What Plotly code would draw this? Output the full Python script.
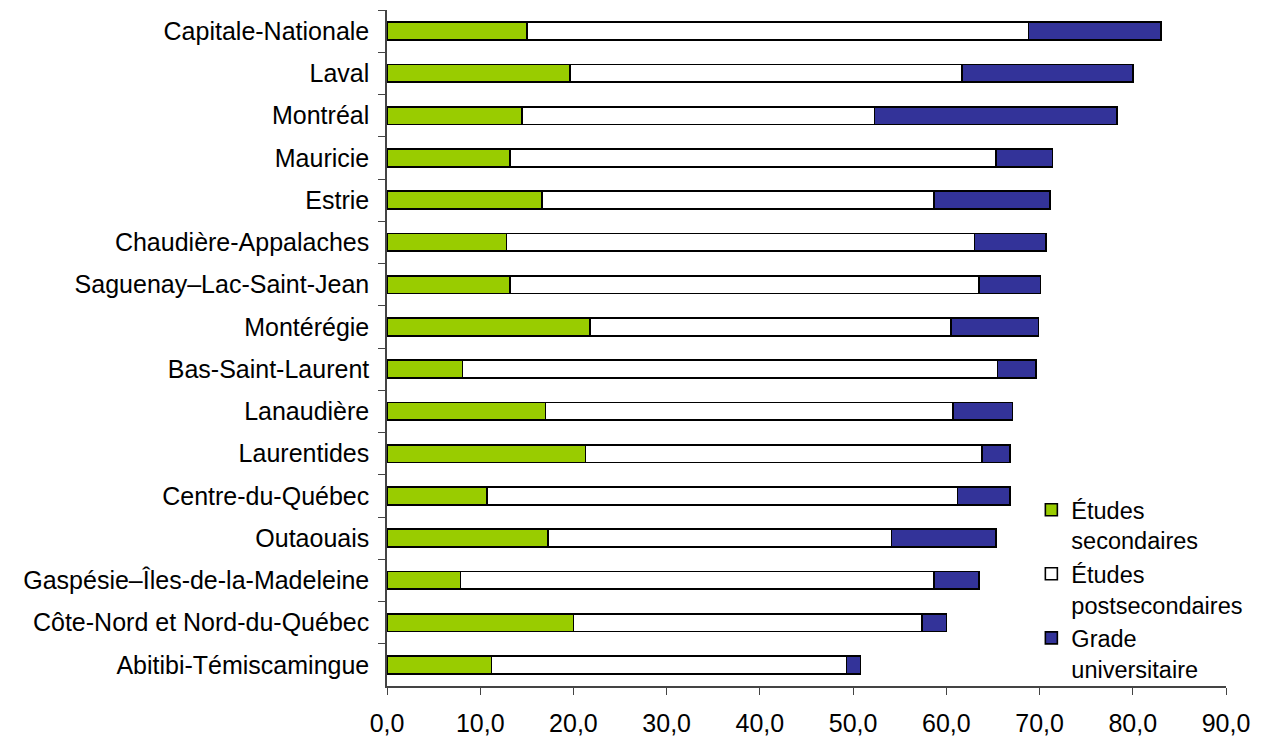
import plotly.graph_objects as go

regions = [
    "Capitale-Nationale", "Laval", "Montréal", "Mauricie", "Estrie",
    "Chaudière-Appalaches", "Saguenay–Lac-Saint-Jean", "Montérégie",
    "Bas-Saint-Laurent", "Lanaudière", "Laurentides", "Centre-du-Québec",
    "Outaouais", "Gaspésie–Îles-de-la-Madeleine",
    "Côte-Nord et Nord-du-Québec", "Abitibi-Témiscamingue",
]
secondaires = [15.0, 19.6, 14.5, 13.2, 16.6, 12.8, 13.2, 21.8,
               8.1, 17.0, 21.3, 10.7, 17.3, 7.9, 20.0, 11.2]
postsecondaires = [53.8, 42.1, 37.8, 52.1, 42.1, 50.2, 50.3, 38.7,
                   57.4, 43.7, 42.5, 50.5, 36.8, 50.8, 37.4, 38.1]
universitaire = [14.2, 18.3, 26.0, 6.1, 12.4, 7.7, 6.6, 9.4,
                 4.1, 6.4, 3.0, 5.6, 11.2, 4.8, 2.6, 1.5]
x_ticks = [0, 10, 20, 30, 40, 50, 60, 70, 80, 90]

series = [
    ("Études<br>secondaires", secondaires, "#99cc00"),
    ("Études<br>postsecondaires", postsecondaires, "#ffffff"),
    ("Grade<br>universitaire", universitaire, "#333399"),
]

fig = go.Figure()
for name, vals, col in series:
    fig.add_trace(go.Bar(
        y=regions, x=vals, name=name, orientation="h",
        marker=dict(color=col, line=dict(color="black", width=1.6)),
        width=0.42,
    ))

font = dict(family="Liberation Sans, Arial, sans-serif", size=25, color="black")
legend_font = dict(font, size=23.5)

# page body has an 8px margin, so the figure is a bit smaller than the window
fig.update_layout(
    barmode="stack",
    width=1260, height=728,
    margin=dict(l=379, r=42, t=2, b=50),
    plot_bgcolor="white", paper_bgcolor="white",
    font=font,
    separators=", ",
    legend=dict(
        x=0.768, y=0.293, xanchor="left", yanchor="top",
        font=legend_font, valign="top", traceorder="normal",
        bgcolor="rgba(0,0,0,0)", tracegroupgap=0,
        itemwidth=30,
    ),
)
fig.update_xaxes(
    range=[0, 90], tickvals=x_ticks, tickformat=".1f",
    showgrid=False, zeroline=False, automargin=False,
    showline=True, linecolor="#444", linewidth=1.5,
    ticks="outside", ticklen=7, tickcolor="#444",
    tickfont=font, ticklabelstandoff=7,
)
fig.update_yaxes(
    autorange="reversed", showgrid=False, automargin=False,
    showline=True, linecolor="#444", linewidth=1.5,
    ticks="outside", ticklen=7, tickcolor="#444", tickson="boundaries",
    tickfont=font, ticklabelstandoff=11,
)

fig.write_html("out.html")
